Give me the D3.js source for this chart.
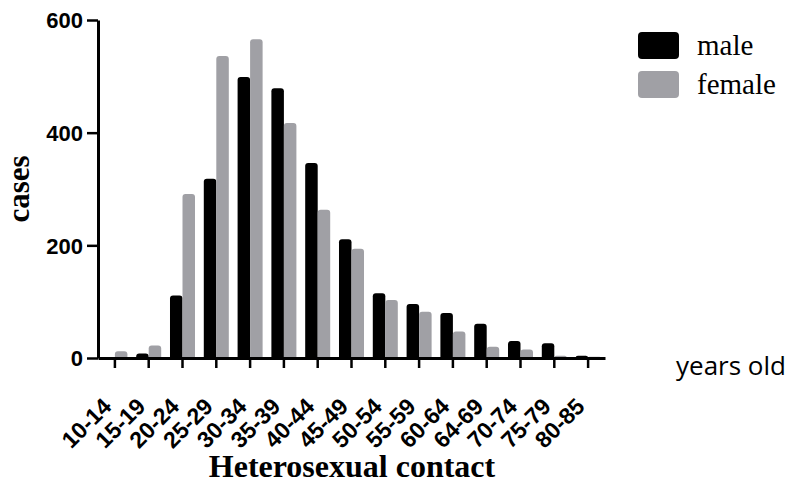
<!DOCTYPE html>
<html>
<head>
<meta charset="utf-8">
<script src="https://cdn.jsdelivr.net/npm/d3@7"></script>
<style>
html,body{margin:0;padding:0;background:#fff;}
svg{display:block;}
</style>
</head>
<body>
<svg id="chart" width="789" height="486"></svg>
<script>
const categories = ["10-14","15-19","20-24","25-29","30-34","35-39","40-44","45-49","50-54","55-59","60-64","64-69","70-74","75-79","80-85"];
const maleValues   = [0, 8, 111, 318, 499, 479, 346, 211, 115, 96, 80, 61, 30, 26, 4];
const femaleValues = [12, 22, 291, 536, 566, 417, 263, 194, 103, 82, 47, 20, 15, 4, 2];
const seriesNames = ["male", "female"];
const yTicks = [0, 200, 400, 600];

const colors = {male: "#000000", female: "#a0a0a5"};
const svg = d3.select("#chart");

const x0 = d3.scaleBand().domain(categories).range([98, 605]).paddingInner(0.26).paddingOuter(0.13);
const x1 = d3.scaleBand().domain(seriesNames).range([0, x0.bandwidth()]);
const y = d3.scaleLinear().domain([0, 600]).range([358, 20]);

const rows = categories.map((c, i) => ({cat: c, male: maleValues[i], female: femaleValues[i]}));

function barPath(x, w, y0, y1) {
  const h = y0 - y1;
  if (h <= 0) return "";
  const r = Math.min(3, h, w / 2);
  return `M${x},${y0}V${y1 + r}Q${x},${y1} ${x + r},${y1}H${x + w - r}Q${x + w},${y1} ${x + w},${y1 + r}V${y0}Z`;
}

const groups = svg.append("g").selectAll("g").data(rows).join("g")
  .attr("transform", d => `translate(${x0(d.cat)},0)`);
groups.selectAll("path").data(d => seriesNames.map(k => ({key: k, value: d[k]}))).join("path")
  .attr("d", d => barPath(x1(d.key), x1.bandwidth(), y(0), y(d.value)))
  .attr("fill", d => colors[d.key]);

// Y axis
const yAxis = svg.append("g").attr("transform", "translate(98,0)")
  .call(d3.axisLeft(y).tickValues(yTicks).tickSize(11).tickSizeOuter(0).tickPadding(4));
yAxis.select(".domain").attr("stroke", "#000").attr("stroke-width", 3);
yAxis.selectAll(".tick line").attr("stroke", "#000").attr("stroke-width", 2.5);
yAxis.selectAll(".tick text").attr("font-family", "Liberation Sans, Arial, sans-serif")
  .attr("font-weight", "bold").attr("font-size", 22).attr("fill", "#000").attr("dy", "0.36em");

// X axis
const xAxis = svg.append("g").attr("transform", "translate(0,358)")
  .call(d3.axisBottom(x0).tickSize(10).tickSizeOuter(0).tickPadding(0));
xAxis.select(".domain").attr("stroke", "#000").attr("stroke-width", 3);
xAxis.selectAll(".tick line").attr("stroke", "#000").attr("stroke-width", 2.5);
xAxis.selectAll(".tick text")
  .attr("font-family", "Liberation Sans, Arial, sans-serif")
  .attr("font-weight", "bold").attr("font-size", 23).attr("fill", "#000")
  .attr("text-anchor", "end")
  .attr("dy", 0).attr("y", 0)
  .attr("transform", "translate(-2,50) rotate(-45)");

// Axis titles
svg.append("text").attr("x", 352).attr("y", 477).attr("text-anchor", "middle")
  .attr("font-family", "Liberation Serif, Times New Roman, serif").attr("font-weight", "bold")
  .attr("font-size", 32).text("Heterosexual contact");
svg.append("text").attr("transform", "translate(29,189) rotate(-90)").attr("text-anchor", "middle")
  .attr("font-family", "Liberation Serif, Times New Roman, serif").attr("font-weight", "bold")
  .attr("font-size", 31).text("cases");
svg.append("text").attr("x", 676).attr("y", 375)
  .attr("font-family", "Open Sans, sans-serif").attr("font-size", 26).attr("fill", "#000")
  .text("years old");

// Legend
const legend = svg.append("g");
seriesNames.forEach((k, i) => {
  legend.append("rect").attr("x", 638).attr("y", 32 + i * 39).attr("width", 41).attr("height", 27)
    .attr("rx", 4).attr("fill", colors[k]);
  legend.append("text").attr("x", 697).attr("y", 55 + i * 39)
    .attr("font-family", "Liberation Serif, Times New Roman, serif").attr("font-size", 29)
    .attr("fill", "#000").text(k);
});
</script>
</body>
</html>
